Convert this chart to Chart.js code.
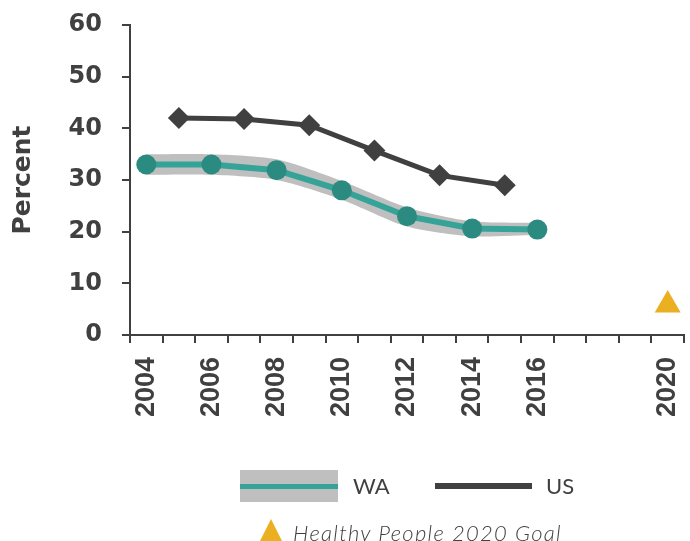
<!DOCTYPE html>
<html>
<head>
<meta charset="utf-8">
<script src="https://cdn.jsdelivr.net/npm/chart.js@4.4.0/dist/chart.umd.min.js"></script>
<style>
  body { margin: 0; background: #fff; }
  #wrap { position: relative; width: 690px; height: 541px; overflow: hidden; }
  #legend div { position: absolute; }
  .lbl { font-family: Lato, "Open Sans", sans-serif; font-size: 22px; color: #404040; line-height: 22px; }
</style>
</head>
<body>
<div id="wrap">
  <canvas id="chart" width="690" height="541"></canvas>
  <div id="legend">
    <div style="left:240px;top:470px;width:98px;height:32px;background:#bfbfbf;"></div>
    <div style="left:240px;top:484px;width:98px;height:5px;background:#35a397;"></div>
    <div class="lbl" style="left:353px;top:475px;">WA</div>
    <div style="left:435px;top:483px;width:97px;height:6px;background:#404040;"></div>
    <div class="lbl" style="left:546px;top:475px;">US</div>
    <div style="left:260px;top:519px;width:0;height:0;border-left:11px solid transparent;border-right:11px solid transparent;border-bottom:22px solid #ebb021;"></div>
    <div class="lbl" style="left:293px;top:522px;font-style:italic;font-weight:300;letter-spacing:1.3px;">Healthy People 2020 Goal</div>
  </div>
</div>
<script>
// categories (one per year on the x axis)
const years = ['2004','2005','2006','2007','2008','2009','2010','2011','2012',
               '2013','2014','2015','2016','2017','2018','2019','2020'];
// only these get a tick label
const xTickLabels = ['2004','2006','2008','2010','2012','2014','2016','2020'];

// WA (every other year) with confidence band
const waYears = ['2004','2006','2008','2010','2012','2014','2016'];
const waValues = [33.0, 33.0, 31.9, 28.0, 23.0, 20.6, 20.4];
const waUpper  = [35.0, 35.0, 34.0, 29.8, 24.7, 22.0, 21.7];
const waLower  = [31.0, 31.0, 30.0, 26.2, 21.0, 19.1, 19.4];

// US
const usYears = ['2005','2007','2009','2011','2013','2015'];
const usValues = [42.0, 41.8, 40.6, 35.7, 30.9, 29.0];

// Healthy People 2020 goal
const goalYears = ['2020'];
const goalValues = [5.8];

const yTicks = [0, 10, 20, 30, 40, 50, 60];

function pts(xs, ys) {
    return xs.map((x, i) => ({x: x, y: ys[i]}));
}

const dark = '#404040';

const ctx = document.getElementById('chart').getContext('2d');
new Chart(ctx, {
    type: 'line',
    data: {
        labels: years,
        datasets: [
            {
                label: 'WA upper',
                data: pts(waYears, waUpper),
                borderWidth: 0,
                pointRadius: 0,
                tension: 0.25,
                backgroundColor: '#bfbfbf',
                fill: '+1',
                order: 10
            },
            {
                label: 'WA lower',
                data: pts(waYears, waLower),
                borderWidth: 0,
                pointRadius: 0,
                tension: 0.25,
                fill: false,
                order: 11
            },
            {
                label: 'WA',
                data: pts(waYears, waValues),
                borderColor: '#35a397',
                borderWidth: 6,
                pointRadius: 10,
                pointBackgroundColor: '#2b8b81',
                pointBorderWidth: 0,
                fill: false,
                order: 2
            },
            {
                label: 'US',
                data: pts(usYears, usValues),
                borderColor: dark,
                borderWidth: 5,
                pointStyle: 'rectRot',
                pointRadius: 11,
                pointBackgroundColor: dark,
                pointBorderWidth: 0,
                fill: false,
                order: 3
            },
            {
                label: 'Healthy People 2020 Goal',
                data: pts(goalYears, goalValues),
                showLine: false,
                pointStyle: 'triangle',
                pointRadius: 15,
                pointBackgroundColor: '#ebb021',
                pointBorderWidth: 0,
                order: 1
            }
        ]
    },
    options: {
        responsive: false,
        animation: false,
        layout: { autoPadding: false, padding: { top: 25, right: 6, bottom: 106, left: 0 } },
        plugins: { legend: { display: false }, tooltip: { enabled: false } },
        scales: {
            x: {
                type: 'category',
                offset: true,
                grid: { offset: true, drawOnChartArea: false, tickLength: 8, color: dark, lineWidth: 2 },
                border: { color: dark, width: 2 },
                ticks: {
                    autoSkip: false,
                    maxRotation: 90,
                    minRotation: 90,
                    padding: 14,
                    color: dark,
                    font: { family: '"Liberation Sans", Arial, sans-serif', size: 27, weight: 'bold' },
                    callback: function(val, idx) {
                        const l = this.getLabelForValue(val);
                        return xTickLabels.includes(l) ? l : '';
                    }
                },
                afterFit: s => { s.height = 100; s.paddingLeft = 0; s.paddingRight = 0; }
            },
            y: {
                min: 0,
                max: 60,
                afterBuildTicks: s => { s.ticks = yTicks.map(v => ({value: v})); },
                grid: { drawOnChartArea: false, tickLength: 8, color: dark, lineWidth: 2 },
                border: { color: dark, width: 2 },
                ticks: {
                    padding: 20,
                    color: dark,
                    font: { family: '"DejaVu Sans", sans-serif', size: 24, weight: 'bold' }
                },
                title: {
                    display: true,
                    text: 'Percent',
                    color: dark,
                    padding: { top: 8, bottom: 0 },
                    font: { family: '"DejaVu Sans", sans-serif', size: 25, weight: 'bold' }
                },
                afterFit: s => { s.width = 130; s.paddingTop = 0; s.paddingBottom = 0; }
            }
        }
    }
});
</script>
</body>
</html>
